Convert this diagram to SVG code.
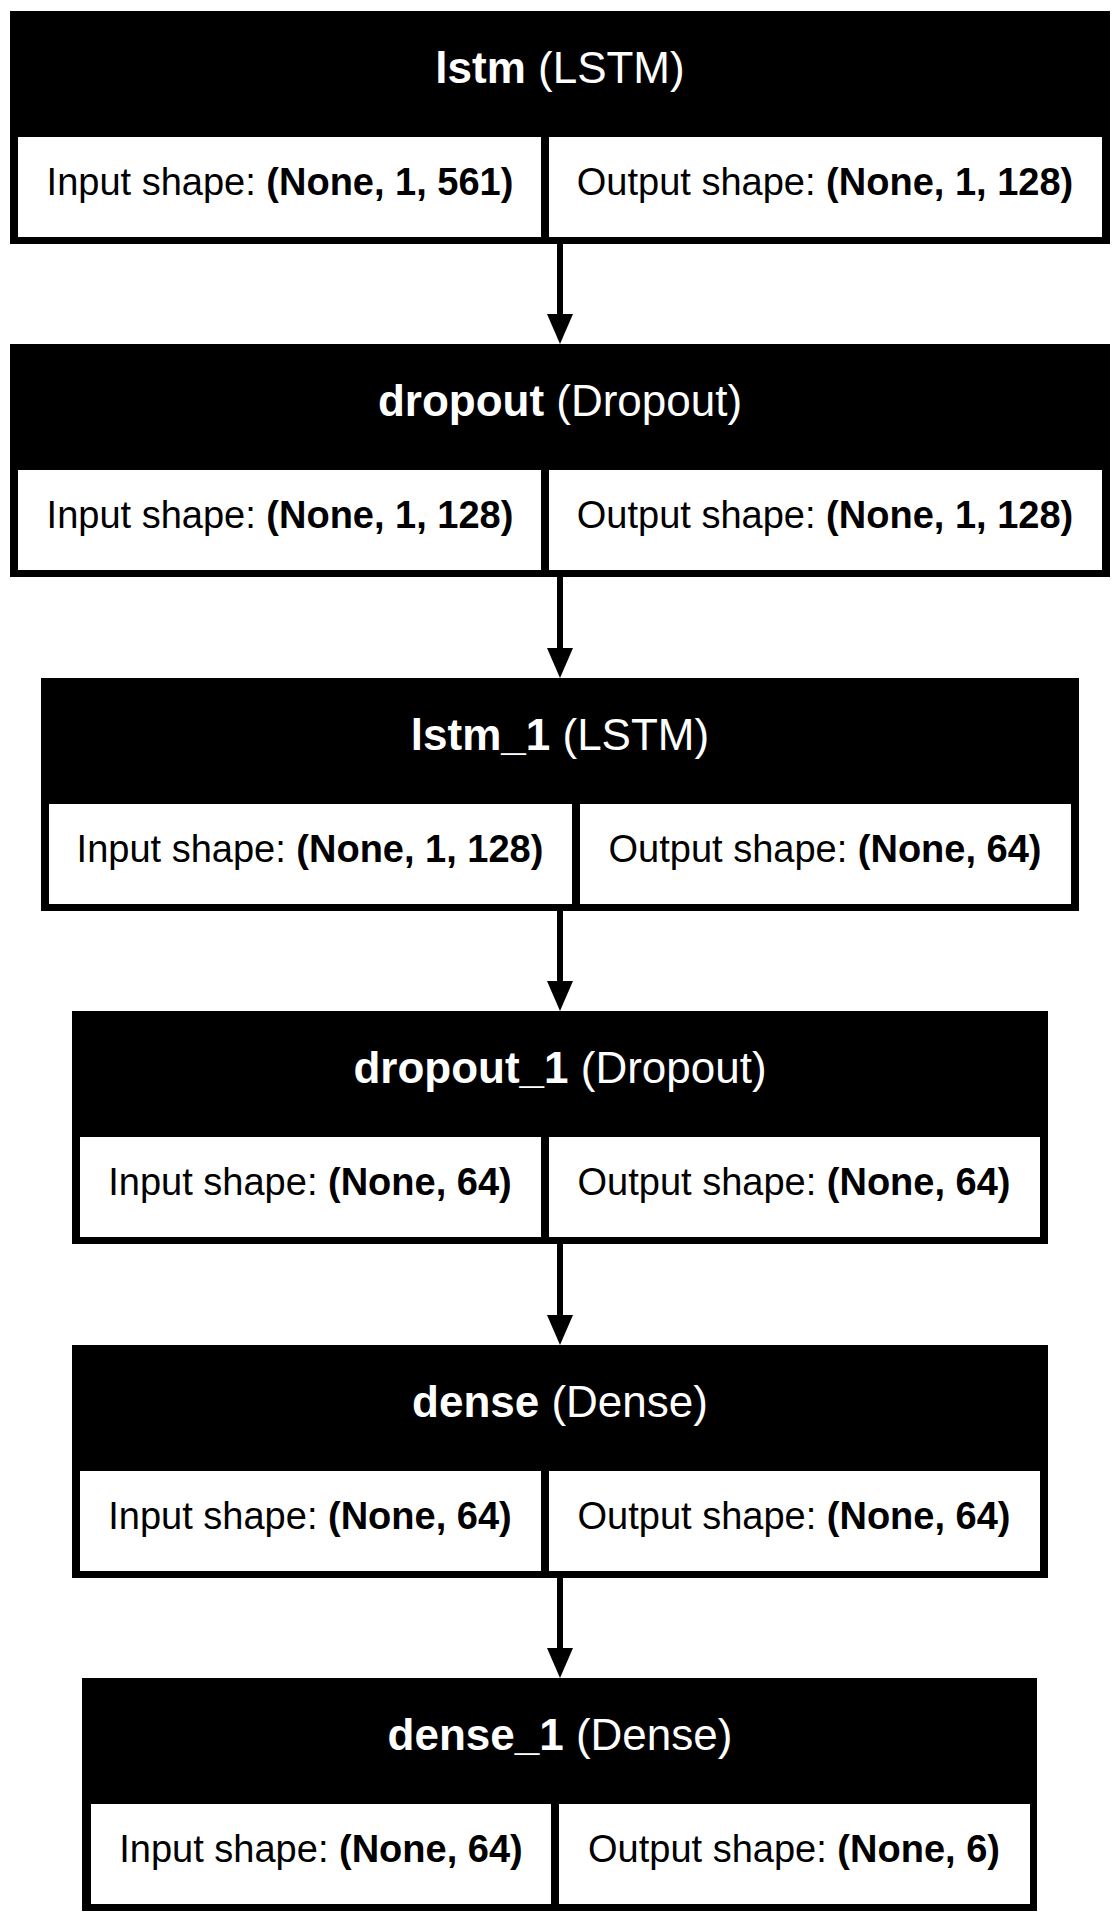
<svg xmlns="http://www.w3.org/2000/svg" width="1119" height="1922" viewBox="0 0 1119 1922">
<style>
.frame{fill:#000}
.cell{fill:#fff}
.hd{font-family:"Liberation Sans",Arial,sans-serif;font-size:44px;fill:#fff;text-anchor:middle}
.tx{font-family:"Liberation Sans",Arial,sans-serif;font-size:38px;fill:#000;text-anchor:middle}
.b{font-weight:bold}
.edge{stroke:#000;stroke-width:6;fill:none}
.head{fill:#000}
</style>
<rect width="1119" height="1922" fill="#fff"/>
<g id="connectors">
<line class="edge" x1="560" y1="244" x2="560" y2="316"/><polygon class="head" points="547,314 573,314 560,344"/>
<line class="edge" x1="560" y1="577" x2="560" y2="650"/><polygon class="head" points="547,648 573,648 560,678"/>
<line class="edge" x1="560" y1="911" x2="560" y2="983"/><polygon class="head" points="547,981 573,981 560,1011"/>
<line class="edge" x1="560" y1="1244" x2="560" y2="1317"/><polygon class="head" points="547,1315 573,1315 560,1345"/>
<line class="edge" x1="560" y1="1578" x2="560" y2="1650"/><polygon class="head" points="547,1648 573,1648 560,1678"/>
</g>
<g id="lstm">
<rect class="frame" x="10" y="11" width="1100" height="233"/>
<rect class="cell" x="18" y="137" width="523" height="100"/>
<rect class="cell" x="549" y="137" width="553" height="100"/>
<text class="hd" x="560" y="83"><tspan class="b">lstm</tspan> (LSTM)</text>
<text class="tx" x="280" y="195">Input shape: <tspan class="b">(None, 1, 561)</tspan></text>
<text class="tx" x="825" y="195">Output shape: <tspan class="b">(None, 1, 128)</tspan></text>
</g>
<g id="dropout">
<rect class="frame" x="10" y="344" width="1100" height="233"/>
<rect class="cell" x="18" y="470" width="523" height="100"/>
<rect class="cell" x="549" y="470" width="553" height="100"/>
<text class="hd" x="560" y="416"><tspan class="b">dropout</tspan> (Dropout)</text>
<text class="tx" x="280" y="528">Input shape: <tspan class="b">(None, 1, 128)</tspan></text>
<text class="tx" x="825" y="528">Output shape: <tspan class="b">(None, 1, 128)</tspan></text>
</g>
<g id="lstm_1">
<rect class="frame" x="41" y="678" width="1038" height="233"/>
<rect class="cell" x="49" y="804" width="523" height="100"/>
<rect class="cell" x="580" y="804" width="491" height="100"/>
<text class="hd" x="560" y="750"><tspan class="b">lstm_1</tspan> (LSTM)</text>
<text class="tx" x="310" y="862">Input shape: <tspan class="b">(None, 1, 128)</tspan></text>
<text class="tx" x="825" y="862">Output shape: <tspan class="b">(None, 64)</tspan></text>
</g>
<g id="dropout_1">
<rect class="frame" x="72" y="1011" width="976" height="233"/>
<rect class="cell" x="80" y="1137" width="461" height="100"/>
<rect class="cell" x="549" y="1137" width="491" height="100"/>
<text class="hd" x="560" y="1083"><tspan class="b">dropout_1</tspan> (Dropout)</text>
<text class="tx" x="310" y="1195">Input shape: <tspan class="b">(None, 64)</tspan></text>
<text class="tx" x="794" y="1195">Output shape: <tspan class="b">(None, 64)</tspan></text>
</g>
<g id="dense">
<rect class="frame" x="72" y="1345" width="976" height="233"/>
<rect class="cell" x="80" y="1471" width="461" height="100"/>
<rect class="cell" x="549" y="1471" width="491" height="100"/>
<text class="hd" x="560" y="1417"><tspan class="b">dense</tspan> (Dense)</text>
<text class="tx" x="310" y="1529">Input shape: <tspan class="b">(None, 64)</tspan></text>
<text class="tx" x="794" y="1529">Output shape: <tspan class="b">(None, 64)</tspan></text>
</g>
<g id="dense_1">
<rect class="frame" x="82" y="1678" width="955" height="233"/>
<rect class="cell" x="91" y="1804" width="460" height="100"/>
<rect class="cell" x="559" y="1804" width="471" height="100"/>
<text class="hd" x="560" y="1750"><tspan class="b">dense_1</tspan> (Dense)</text>
<text class="tx" x="321" y="1862">Input shape: <tspan class="b">(None, 64)</tspan></text>
<text class="tx" x="794" y="1862">Output shape: <tspan class="b">(None, 6)</tspan></text>
</g>
</svg>
